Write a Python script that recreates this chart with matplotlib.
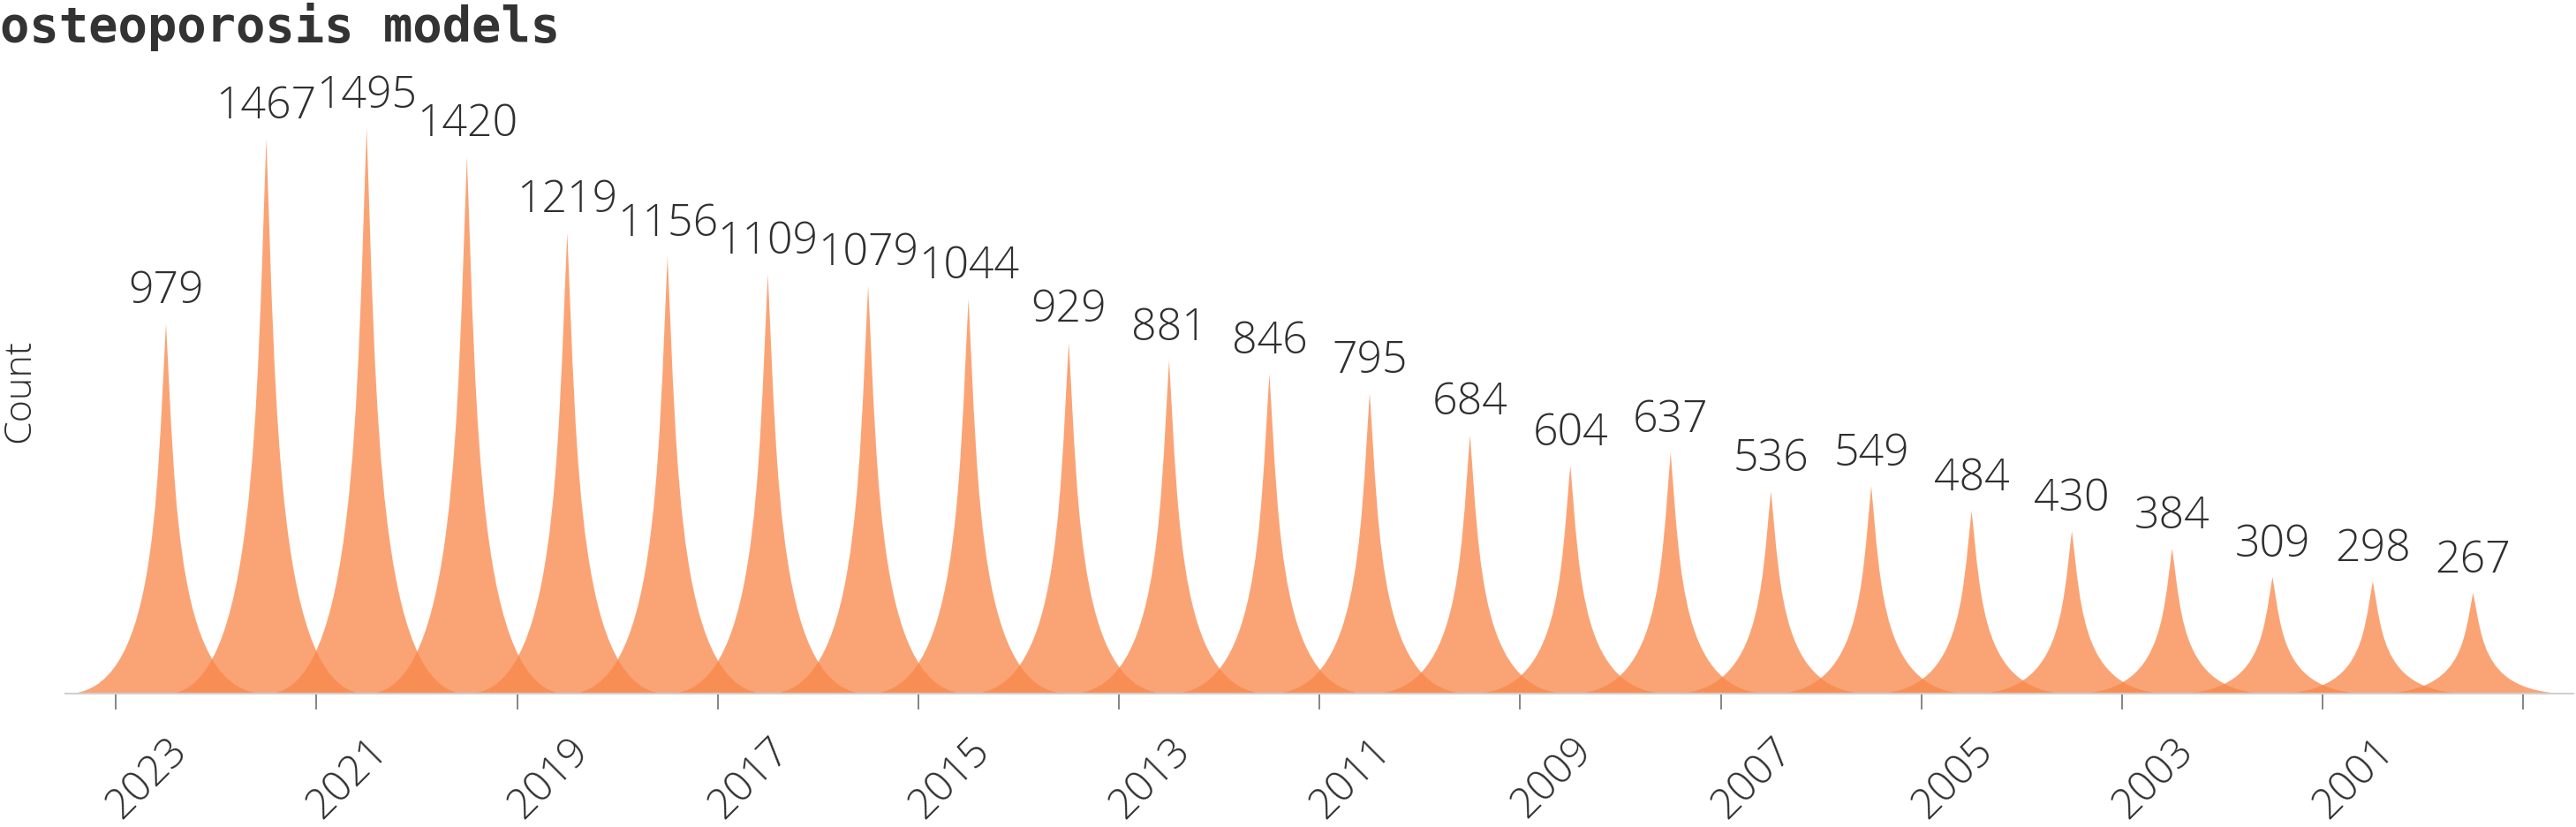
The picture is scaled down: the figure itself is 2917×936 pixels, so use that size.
import matplotlib.pyplot as plt
from matplotlib.path import Path
from matplotlib.patches import PathPatch

# Дані
years = list(range(2023, 1999, -1))
counts = [979, 1467, 1495, 1420, 1219, 1156, 1109, 1079, 1044, 929, 881, 846,
          795, 684, 604, 637, 536, 549, 484, 430, 384, 309, 298, 267]
title = "osteoporosis models"
y_name = "Count"

fill_color = "#f9884b"
text_color = "#2f2f2f"
label_font = ["Open Sans", "DejaVu Sans"]


def spike_path(x, h, half_w=1.0):
    """Шип як у pictorialBar: дві кубічні криві від основи до вершини."""
    verts = [
        (x - half_w, 0),
        (x - 0.1 * half_w, 0), (x - 0.1 * half_w, h / 2), (x, h),
        (x + 0.1 * half_w, h / 2), (x + 0.1 * half_w, 0), (x + half_w, 0),
        (x - half_w, 0),
    ]
    codes = [Path.MOVETO] + [Path.CURVE4] * 6 + [Path.CLOSEPOLY]
    return Path(verts, codes)


fig = plt.figure(figsize=(29.17, 9.36), dpi=100)
ax = fig.add_axes([0.0255, 0.161, 0.9735, 0.732])

for i, c in enumerate(counts):
    ax.add_patch(PathPatch(spike_path(i, c), facecolor=fill_color,
                           edgecolor="none", alpha=0.76, zorder=2))
    ax.annotate(str(c), (i, c), xytext=(0, 8), textcoords="offset points",
                ha="center", va="bottom", fontsize=36, color=text_color,
                family=label_font, fontweight="light")

ax.set_xlim(-1.0, 24.0)
ax.set_ylim(0, 1600)

# Поділки на межах категорій, підписи по центрах
ax.set_xticks([i - 0.5 for i in range(0, len(years) + 1, 2)])
ax.set_xticklabels([])
ax.set_xticks(list(range(0, len(years), 2)), minor=True)
ax.set_xticklabels([str(y) for y in years[::2]], minor=True, rotation=45,
                   ha="right", va="top", rotation_mode="anchor",
                   fontsize=34, color=text_color, family=label_font,
                   fontweight="light")
ax.tick_params(axis="x", which="major", length=13, width=1.2, color="#6e7079")
ax.tick_params(axis="x", which="minor", length=0, pad=29)
ax.set_yticks([])

for side in ["top", "right", "left"]:
    ax.spines[side].set_visible(False)
ax.spines["bottom"].set_color("#d0d0d0")
ax.spines["bottom"].set_linewidth(1.5)

fig.text(22 / 2917, 0.161 + 0.732 / 2, y_name, rotation=90, ha="center",
         va="center", fontsize=31, color=text_color, family=label_font,
         fontweight="light")
fig.text(0.0, 0.997, title, ha="left", va="top", fontsize=40,
         fontweight="bold", family="DejaVu Sans Mono", color="#333333")

fig.savefig("out.png", dpi=100)
